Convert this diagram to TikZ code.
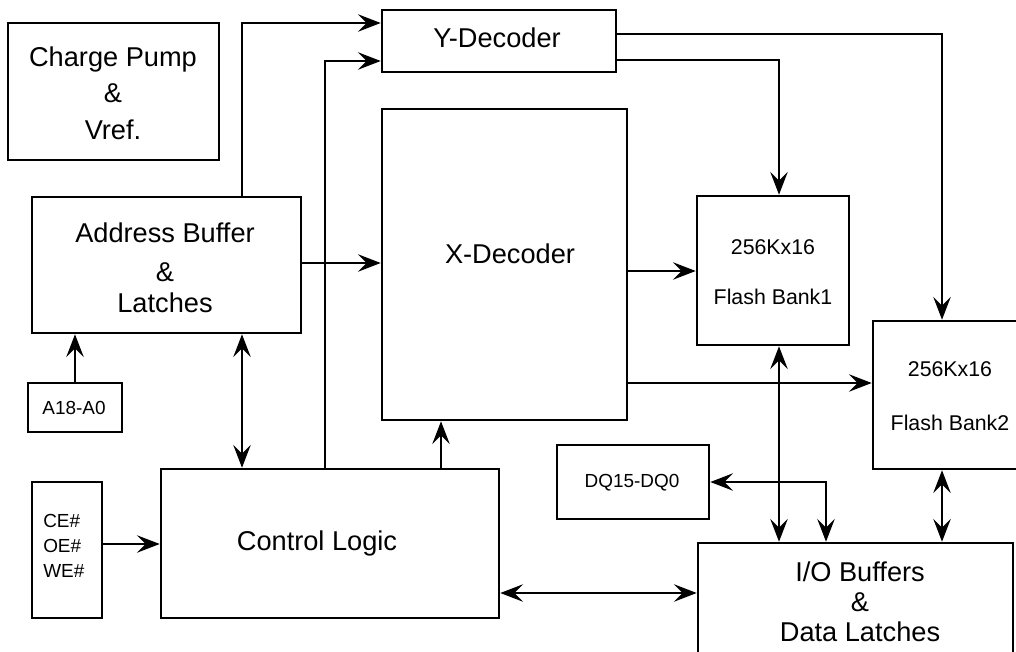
\documentclass[tikz,border=0pt]{standalone}
\usepackage{fontspec}
\setmainfont{Liberation Sans}
\usetikzlibrary{arrows.meta,fit}
\begin{document}
\begin{tikzpicture}[x=0.75pt,y=-0.75pt,
  box/.style={draw,line width=1.9pt,inner sep=0pt},
  big/.style={font=\fontsize{20.4}{27}\selectfont},
  mid/.style={font=\fontsize{16}{37.5}\selectfont},
  small/.style={font=\fontsize{14.2}{18.75}\selectfont},
  lbl/.style={inner sep=0pt,align=center},
  conn/.style={line width=1.9pt},
  tip/.tip={Stealth[length=17pt,width=13pt,inset=6.5pt]},
  arr/.style={conn,-tip},
  darr/.style={conn,tip-tip}]
\clip (0,0) rectangle (1016,652);
\fill[white] (0,0) rectangle (1016,652);

% boxes
\node[box,fit={(8,23) (219,160)}] (cp) {};
\node[lbl,big,font=\fontsize{20.4}{27.5}\selectfont] at (113,93) {Charge Pump\\\&\\Vref.};
\node[box,fit={(382,10) (616,72)}] (yd) {};
\node[lbl,big] at (497,38) {Y-Decoder};
\node[box,fit={(32,197) (301,333)}] (ab) {};
\node[lbl,big,font=\fontsize{20.4}{23.25}\selectfont] at (165,268) {Address Buffer\\[6.4pt]\&\\Latches};
\node[box,fit={(382,109) (627,420)}] (xd) {};
\node[lbl,big] at (510,254) {X-Decoder};
\node[box,fit={(697,196) (849,345)}] (bk1) {};
\node[lbl,mid] at (773,272) {256Kx16\\Flash Bank1};
\node[box,fit={(873,321) (1027,469)}] (bk2) {};
\node[lbl,mid,font=\fontsize{16}{41}\selectfont] at (950,396) {256Kx16\\Flash Bank2};
\node[box,fit={(28,383) (122,432)}] (a18) {};
\node[lbl,small] at (74,408) {A18-A0};
\node[box,fit={(32,482) (102,618)}] (ce) {};
\node[lbl,small,align=left,anchor=west] at (43,546) {CE\#\\OE\#\\WE\#};
\node[box,fit={(161,469) (499,618)}] (cl) {};
\node[lbl,big] at (317,543) {Control Logic};
\node[box,fit={(557,445) (709,519)}] (dq) {};
\node[lbl,small] at (632,483) {DQ15-DQ0};
\node[box,fit={(698,543) (1013,690)}] (io) {};
\node[lbl,big,font=\fontsize{20.4}{22.5}\selectfont] at (860,602) {I/O Buffers\\\&\\Data Latches};

% bus coordinates
\coordinate (x242) at (242,0);
\coordinate (x325) at (325,0);
\coordinate (x441) at (441,0);
\coordinate (x779) at (779,0);
\coordinate (x826) at (826,0);
\coordinate (x942) at (942,0);
\coordinate (y23) at (0,23);
\coordinate (y34) at (0,34);
\coordinate (y60) at (0,60);
\coordinate (y61) at (0,61);
\coordinate (y263) at (0,263);
\coordinate (y271) at (0,271);
\coordinate (y383) at (0,383);
\coordinate (y544) at (0,544);
\coordinate (y593) at (0,593);

% connectors
\draw[arr] (ab.north -| x242) |- (yd.west |- y23);
\draw[arr] (cl.north -| x325) |- (yd.west |- y61);
\draw[arr] (yd.east |- y34) -| (bk2.north -| x942);
\draw[arr] (yd.east |- y60) -| (bk1.north -| x779);
\draw[arr] (ab.east |- y263) -- (xd.west |- y263);
\draw[arr] (xd.east |- y271) -- (bk1.west |- y271);
\draw[arr] (xd.east |- y383) -- (bk2.west |- y383);
\draw[arr] (a18.north) -- (ab.south -| a18.north);
\draw[darr] (ab.south -| x242) -- (cl.north -| x242);
\draw[arr] (cl.north -| x441) -- (xd.south -| x441);
\draw[arr] (ce.east |- y544) -- (cl.west |- y544);
\draw[darr] (cl.east |- y593) -- (io.west |- y593);
\draw[darr] (bk1.south -| x779) -- (io.north -| x779);
\draw[darr] (dq.east) -| (io.north -| x826);
\draw[darr] (bk2.south -| x942) -- (io.north -| x942);
\end{tikzpicture}
\end{document}
